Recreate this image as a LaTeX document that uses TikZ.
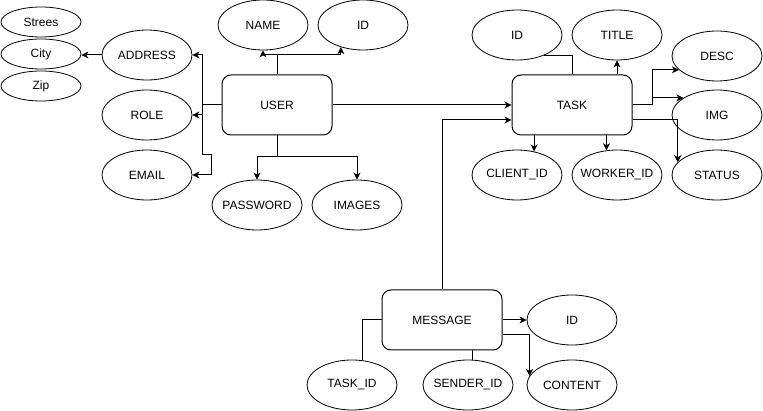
\documentclass[tikz,border=0pt]{standalone}
\usepackage{fontspec}
\setmainfont{Liberation Sans}
\usetikzlibrary{shapes.geometric, arrows.meta, positioning, calc}

\begin{document}
\begin{tikzpicture}[
  x=1pt, y=-1pt,
  every node/.style={font=\fontsize{12}{14}\selectfont},
  entity/.style={draw, rounded corners=9pt, minimum width=110pt, minimum height=60pt, line width=1pt},
  wentity/.style={entity, minimum width=120pt},
  attr/.style={draw, ellipse, minimum width=90pt, minimum height=50pt, inner xsep=-15pt, inner ysep=0pt, line width=0.8pt},
  subattr/.style={attr, minimum width=80pt, minimum height=30pt},
  link/.style={line width=1pt},
  arr/.style={link, -{Stealth[length=7pt, width=7pt, inset=2pt]}}
]
  \useasboundingbox (0,0) rectangle (763,411);

  % entities
  \node[entity] (user) at (277,105) {USER};
  \node[wentity] (task) at (572,105) {TASK};
  \node[wentity] (message) at (442,320) {MESSAGE};

  % user attributes
  \node[attr] (address) at (147,55) {ADDRESS};
  \node[attr] (role) at (147,115) {ROLE};
  \node[attr] (email) at (147,175) {EMAIL};
  \node[attr] (name) at (263,25) {NAME};
  \node[attr] (uid) at (363,25) {ID};
  \node[attr] (password) at (257,205) {PASSWORD};
  \node[attr] (images) at (357,205) {IMAGES};
  \node[subattr] (strees) at (41,22) {Strees};
  \node[subattr] (city) at (41,54) {City};
  \node[subattr] (zip) at (41,86) {Zip};

  % task attributes
  \node[attr] (tid) at (517,35) {ID};
  \node[attr] (title) at (617,35) {TITLE};
  \node[attr] (desc) at (717,56) {DESC};
  \node[attr] (img) at (717,115) {IMG};
  \node[attr] (status) at (717,175) {STATUS};
  \node[attr] (client) at (517,175) {CLIENT\_ID};
  \node[attr] (worker) at (617,175) {WORKER\_ID};

  % message attributes
  \node[attr] (mid) at (572,320) {ID};
  \node[attr] (content) at (572,385) {CONTENT};
  \node[attr] (taskid) at (352,385) {TASK\_ID};
  \node[attr] (sender) at (468,385) {SENDER\_ID};

  % user links
  \draw[arr] (address.west) -- (address.west -| city.east);
  \draw[arr] (user.west) -- ++(-19,0) |- (address.east);
  \draw[arr] (user.west) -- ++(-19,0) |- (role.east);
  \draw[arr] (user.west) -- ++(-19,0) -- ++(0,50) -- ++(9,0) |- (email.east);
  \draw[arr] (user.north) -- ++(0,-20) -| (name.south);
  \draw[arr] (user.north) -- ++(0,-20) -| (uid.225);
  \draw[arr] (user.south) -- ++(0,21) -| (password.north);
  \draw[arr] (user.south) -- ++(0,21) -| (images.north);
  \draw[arr] (user.east) -- (task.west);

  % task links
  \draw[link] (task.north) |- (tid.-37);
  \draw[arr] (title.south |- task.north) -- (title.south);
  \draw[arr] (task.east) -- ++(20,0) |- (desc.200);
  \draw[arr] (task.east) -- ++(20,0) |- (img.153);
  \draw[arr] ([yshift=-15pt]task.east) -| (status.162);
  \draw[arr] (task.south -| client.54) -- (client.54);
  \draw[arr] (task.south -| worker.113) -- (worker.113);

  % message links
  \draw[arr] (message.north) |- ([yshift=-15pt]task.west);
  \draw[arr] (message.east) -- (mid.west);
  \draw[arr] ([yshift=-15pt]message.east) -| (content.168);
  \draw[link] (message.west) -| (taskid.68);
  \draw[link] (sender.81 |- message.south) -- (sender.81);
\end{tikzpicture}
\end{document}
